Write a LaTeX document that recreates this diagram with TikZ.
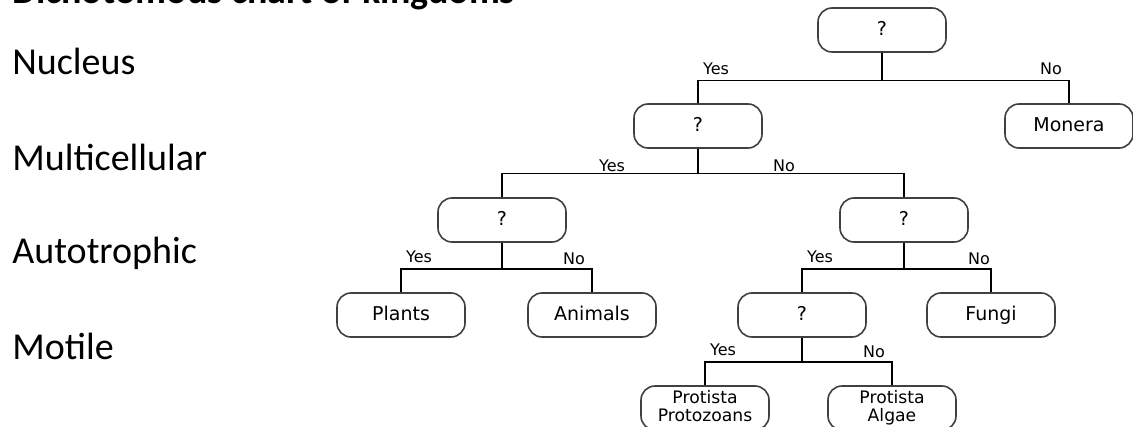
\documentclass[tikz,border=0pt]{standalone}
\usepackage{fontspec}
\setmainfont{Carlito}
\newfontfamily\boxfont{DejaVu Sans}
\usepackage{tikz}
\usetikzlibrary{
  positioning,
  calc
}
\tikzset{
  boxbase/.style={
    draw=black!75, rounded corners=7pt, minimum height=22pt, minimum width=64pt,
    line width=0.8pt, inner sep=1pt, align=center
  },
  kbox/.style={boxbase, text height=0.75em, text depth=0.22em,
    font=\boxfont\fontsize{9.5}{11}\selectfont},
  smallbox/.style={boxbase, font=\boxfont\fontsize{8.6}{9.2}\selectfont,
    execute at end node={\vphantom{g}}},
  ans/.style={font=\boxfont\fontsize{8}{9}\selectfont, inner sep=0pt},
  trait/.style={font=\fontsize{19}{22}\selectfont, anchor=base west, inner sep=0pt},
  branch/.style={line width=0.7pt, black}
}

\begin{document}
\begin{tikzpicture}[x=0.5pt, y=-0.5pt]
  \useasboundingbox (0,0) rectangle (1133,427);
  \clip (0,0) rectangle (1133,427);
  % title and traits
  \node[trait, font=\fontsize{19}{22}\selectfont\bfseries] (title) at (12,4) {Dichotomous chart of kingdoms};
  \node[trait] (nucleus) at (12,75) {Nucleus};
  \node[trait] (multi) at (12,170) {Multicellular};
  \node[trait] (auto) at (12,263) {Autotrophic};
  \node[trait] (motile) at (12,359) {Motile};
  % questions and kingdoms
  \node[kbox] (q1) at (882,30) {?};
  \node[kbox] (q2) at (698,126) {?};
  \node[kbox] (monera) at (1069,126) {Monera};
  \node[kbox] (q3) at (502,220) {?};
  \node[kbox] (q4) at (904,220) {?};
  \node[kbox] (plants) at (401,315) {Plants};
  \node[kbox] (animals) at (592,315) {Animals};
  \node[kbox] (q5) at (802,315) {?};
  \node[kbox] (fungi) at (991,315) {Fungi};
  \node[smallbox] (protozoa) at (705,408) {Protista\\Protozoans};
  \node[smallbox] (algae) at (892,408) {Protista\\Algae};
  % branches
  \draw[branch] (q1.south) -- ++(0,28) coordinate (j1);
  \draw[branch] (q2.north) |- (j1) -| (monera.north);
  \draw[branch] (q2.south) -- ++(0,25) coordinate (j2);
  \draw[branch] (q3.north) |- (j2) -| (q4.north);
  \draw[branch] (q3.south) -- ++(0,26) coordinate (j3);
  \draw[branch] (plants.north) |- (j3) -| (animals.north);
  \draw[branch] (q4.south) -- ++(0,26) coordinate (j4);
  \draw[branch] (q5.north) |- (j4) -| (fungi.north);
  \draw[branch] (q5.south) -- ++(0,24) coordinate (j5);
  \draw[branch] (protozoa.north) |- (j5) -| (algae.north);
  % answers
  \node[ans] (y1) at ($(q2.north |- j1)+(18,-12)$) {Yes};
  \node[ans] (n1) at ($(monera.north |- j1)+(-18,-12)$) {No};
  \node[ans] (y2) at ($(j2)+(-86,-8)$) {Yes};
  \node[ans] (n2) at ($(j2)+(86,-8)$) {No};
  \node[ans] (y3) at ($(plants.north |- j3)+(18,-12)$) {Yes};
  \node[ans] (n3) at ($(animals.north |- j3)+(-18,-10)$) {No};
  \node[ans] (y4) at ($(q5.north |- j4)+(18,-12)$) {Yes};
  \node[ans] (n4) at ($(fungi.north |- j4)+(-12,-10)$) {No};
  \node[ans] (y5) at ($(protozoa.north |- j5)+(18,-12)$) {Yes};
  \node[ans] (n5) at ($(algae.north |- j5)+(-18,-10)$) {No};
\end{tikzpicture}
\end{document}
